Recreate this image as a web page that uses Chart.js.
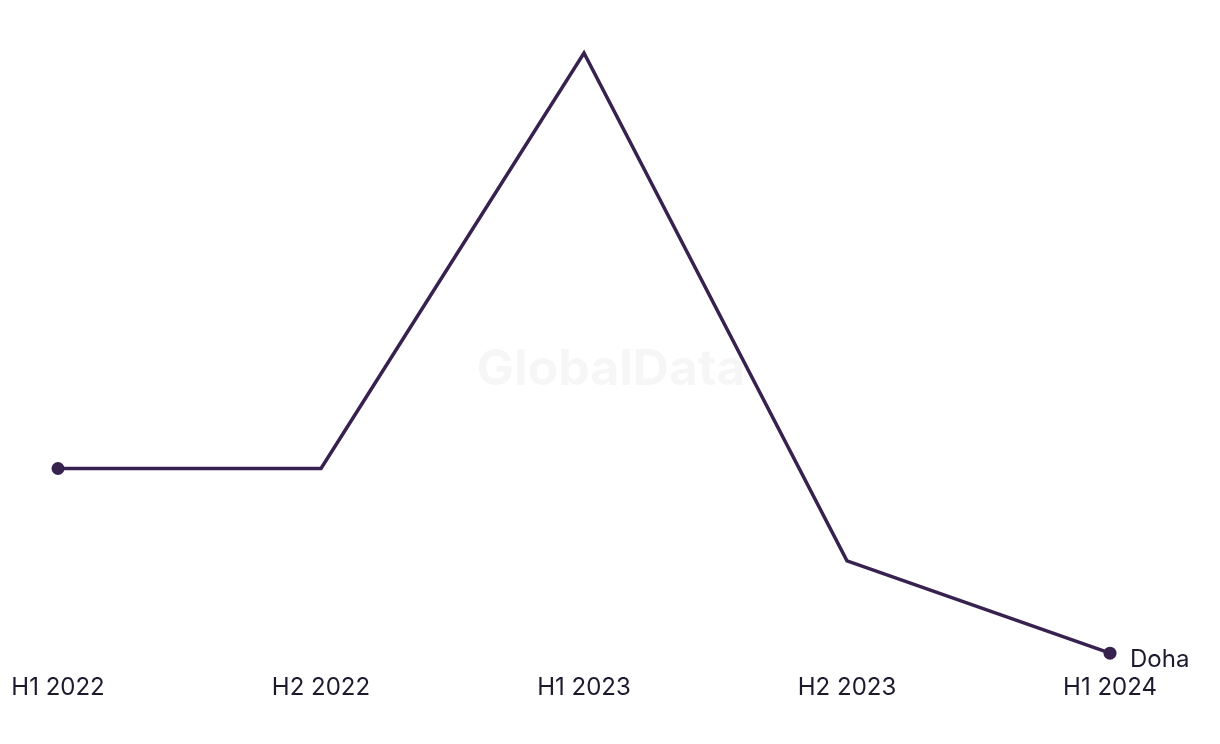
<!DOCTYPE html>
<html>
<head>
<meta charset="utf-8">
<script src="https://cdn.jsdelivr.net/npm/chart.js@4"></script>
<style>
  html, body { margin: 0; padding: 0; background: #fff; }
  #wrap { width: 1220px; height: 744px; }
</style>
</head>
<body>
<div id="wrap"><canvas id="chartDoha"></canvas></div>
<script>
const periods = ["H1 2022", "H2 2022", "H1 2023", "H2 2023", "H1 2024"];
const dohaValues = [5, 5, 14, 3, 1];
const seriesName = "Doha";

const lineColor = "#36214f";

// end label + watermark
const extras = {
  id: "extras",
  beforeDatasetsDraw(chart) {
    const { ctx } = chart;
    ctx.save();
    ctx.font = "bold 50px Inter, 'Liberation Sans', sans-serif";
    ctx.fillStyle = "rgba(0,0,0,0.035)";
    ctx.textAlign = "center";
    ctx.textBaseline = "middle";
    ctx.fillText("GlobalData", 611, 370);
    ctx.restore();
  },
  afterDatasetsDraw(chart) {
    const { ctx } = chart;
    const pts = chart.getDatasetMeta(0).data;
    const last = pts[pts.length - 1];
    ctx.save();
    ctx.font = "24px Inter, 'Liberation Sans', sans-serif";
    ctx.fillStyle = "#1c1b2e";
    ctx.textAlign = "left";
    ctx.textBaseline = "middle";
    ctx.fillText(seriesName, last.x + 20, last.y + 7);
    ctx.restore();
  }
};

const ctx = document.getElementById("chartDoha").getContext("2d");
new Chart(ctx, {
  type: "line",
  data: {
    labels: periods,
    datasets: [{
      label: seriesName,
      data: dohaValues,
      borderColor: lineColor,
      backgroundColor: lineColor,
      borderWidth: 3.5,
      tension: 0,
      clip: false,
      pointRadius: dohaValues.map((v, i) => (i === 0 || i === dohaValues.length - 1) ? 6.5 : 0),
      pointHoverRadius: 6.5,
      pointBorderWidth: 0
    }]
  },
  options: {
    responsive: true,
    maintainAspectRatio: false,
    animation: false,
    layout: { padding: { left: 58, right: 110, top: 53, bottom: 22 } },
    plugins: { legend: { display: false }, tooltip: { enabled: false } },
    scales: {
      x: {
        offset: false,
        afterFit(scale) {
          scale.paddingLeft = 0;
          scale.paddingRight = 0;
        },
        grid: { display: false, drawTicks: false },
        border: { display: false },
        ticks: {
          autoSkip: false,
          maxRotation: 0,
          padding: 20,
          color: "#1c1b2e",
          font: { family: "Inter, 'Liberation Sans', sans-serif", size: 24 }
        }
      },
      y: {
        display: false,
        min: 1,
        max: 14
      }
    }
  },
  plugins: [extras]
});
</script>
</body>
</html>
